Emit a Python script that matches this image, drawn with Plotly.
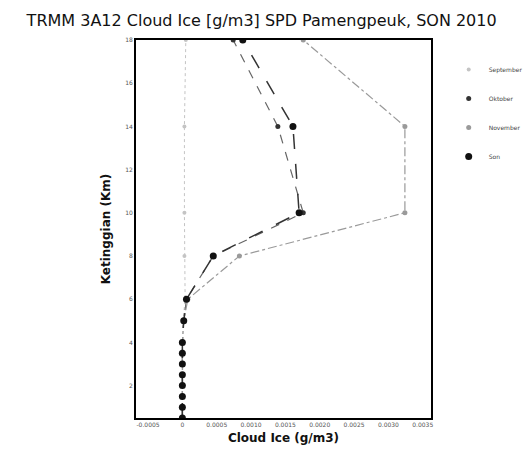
import plotly.graph_objects as go

heights = [0.5, 1.0, 1.5, 2.0, 2.5, 3.0, 3.5, 4.0, 5.0, 6.0, 8.0, 10.0, 14.0, 18.0]
september = [0, 0, 0, 0, 0, 0, 0, 0, 0.00001, 0.00004, 0.00003, 0.00003, 0.00003, 0.00005]
oktober = [0, 0, 0, 0, 0, 0, 0, 0, 0.00002, 0.00006, 0.00045, 0.00176, 0.00139, 0.00074]
november = [0, 0, 0, 0, 0, 0, 0, 0, 0.00002, 0.00008, 0.00083, 0.00324, 0.00324, 0.00176]
son = [0, 0, 0, 0, 0, 0, 0, 0, 0.00002, 0.00006, 0.00045, 0.00170, 0.00161, 0.00088]

series_names = ["September", "Oktober", "November", "Son"]

x_tickvals = [-0.0005, 0, 0.0005, 0.0010, 0.0015, 0.0020, 0.0025, 0.0030, 0.0035]
x_ticktext = ["-0.0005", "0", "0.0005", "0.0010", "0.0015", "0.0020", "0.0025", "0.0030", "0.0035"]
y_tickvals = [2, 4, 6, 8, 10, 12, 14, 16, 18]

styles = [
    dict(line=dict(color="#c4c4c4", width=1, dash="dot"), marker=dict(color="#c4c4c4", size=4)),
    dict(line=dict(color="#666666", width=1.2, dash="dash"), marker=dict(color="#333333", size=5)),
    dict(line=dict(color="#9a9a9a", width=1.2, dash="dashdot"), marker=dict(color="#9a9a9a", size=5)),
    dict(line=dict(color="#333333", width=1.5, dash="longdash"), marker=dict(color="#111111", size=7)),
]

fig = go.Figure()
for name, vals, st in zip(series_names, [september, oktober, november, son], styles):
    fig.add_trace(go.Scatter(x=vals, y=heights, name=name, mode="lines+markers",
                             line=st["line"], marker=st["marker"], showlegend=False))
for name, st in zip(series_names, styles):
    fig.add_trace(go.Scatter(x=[None], y=[None], name=name, mode="markers",
                             marker=st["marker"], legendgroup=name, showlegend=True))

fig.update_layout(
    width=532, height=450,
    margin=dict(l=128, r=92, t=32, b=40),
    paper_bgcolor="white", plot_bgcolor="white",
    title=dict(text="TRMM 3A12 Cloud Ice [g/m3] SPD Pamengpeuk, SON 2010",
               x=0.035, xanchor="left", y=0.985, yanchor="top",
               font=dict(family="DejaVu Sans", size=16, color="#111111")),
    font=dict(family="DejaVu Sans", color="#111111"),
    legend=dict(x=1.06, y=0.96, xanchor="left", yanchor="top",
                font=dict(size=6, color="#444444"), bgcolor="rgba(0,0,0,0)",
                itemwidth=30, tracegroupgap=10),
    showlegend=True,
)
fig.update_xaxes(range=[-0.000675, 0.00362], tickvals=x_tickvals, ticktext=x_ticktext,
                 tickfont=dict(size=6, color="#555555"), showgrid=False, zeroline=False,
                 showline=True, linecolor="black", linewidth=2, mirror=True,
                 ticks="", title=dict(text="<b>Cloud Ice (g/m3)</b>", font=dict(size=12), standoff=6))
fig.update_yaxes(range=[0.5, 18], tickvals=y_tickvals,
                 tickfont=dict(size=6, color="#555555"), showgrid=False, zeroline=False,
                 showline=True, linecolor="black", linewidth=2, mirror=True,
                 ticks="", title=dict(text="<b>Ketinggian (Km)</b>", font=dict(size=12), standoff=12))

fig.write_html("out.html")
